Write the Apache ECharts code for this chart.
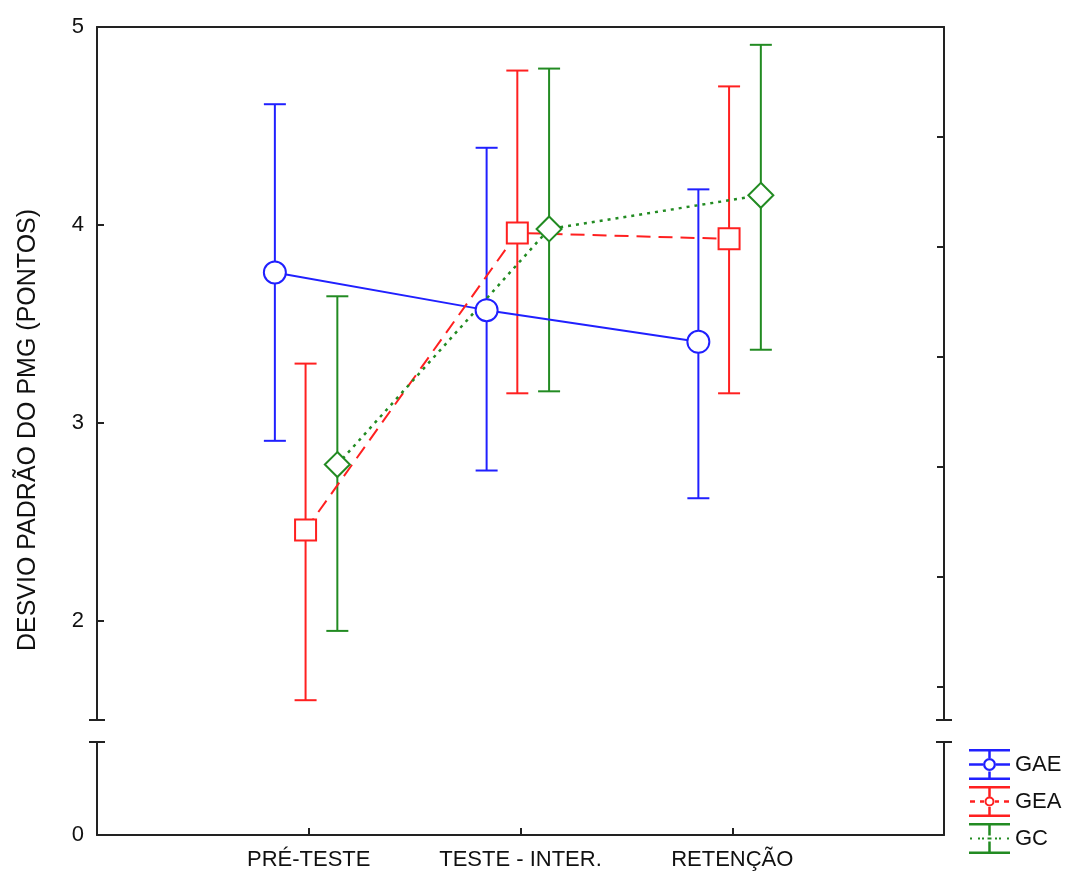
<!DOCTYPE html>
<html>
<head>
<meta charset="utf-8">
<script src="https://cdn.jsdelivr.net/npm/echarts@6/dist/echarts.min.js"></script>
<style>
html, body { margin: 0; padding: 0; background: #fff; }
#main { width: 1066px; height: 879px; }
</style>
</head>
<body>
<div id="main"></div>
<script>
// values
var categories = ['PRÉ-TESTE', 'TESTE - INTER.', 'RETENÇÃO'];
var groups = ['GAE', 'GEA', 'GC'];

var gaeMean = [3.76, 3.57, 3.41];
var gaeLow  = [2.91, 2.76, 2.62];
var gaeHigh = [4.61, 4.39, 4.18];

var geaMean = [2.46, 3.96, 3.93];
var geaLow  = [1.60, 3.15, 3.15];
var geaHigh = [3.30, 4.78, 4.70];

var gcMean  = [2.79, 3.98, 4.15];
var gcLow   = [1.95, 3.16, 3.37];
var gcHigh  = [3.64, 4.79, 4.91];

var yLabels = [2, 3, 4, 5];
var yTitle = 'DESVIO PADRÃO DO PMG (PONTOS)';

// look
var font = 'Liberation Sans, Arial, sans-serif';
var textColor = '#111';
var axisColor = '#222';
var colors = ['#2020ff', '#ff2020', '#228b22'];
var shift = [-0.16, -0.015, 0.135];   // spread of the groups inside a category
var symbols = ['circle', 'rect', 'diamond'];
var symbolSizes = [22, 21, 25];
var lineTypes = ['solid', [14, 8], [3, 5]];
var lineWidths = [2, 2, 2.5];

var means = [gaeMean, geaMean, gcMean];
var lows = [gaeLow, geaLow, gcLow];
var highs = [gaeHigh, geaHigh, gcHigh];

// legend glyphs (error bar + marker), 41 x 31 box
var ring = function (cx, cy, r1, r2) {
    return 'M' + (cx - r1) + ' ' + cy + ' A' + r1 + ' ' + r1 + ' 0 1 0 ' + (cx + r1) + ' ' + cy +
        ' A' + r1 + ' ' + r1 + ' 0 1 0 ' + (cx - r1) + ' ' + cy + ' Z ' +
        'M' + (cx - r2) + ' ' + cy + ' A' + r2 + ' ' + r2 + ' 0 1 1 ' + (cx + r2) + ' ' + cy +
        ' A' + r2 + ' ' + r2 + ' 0 1 1 ' + (cx - r2) + ' ' + cy + ' Z ';
};
var rect = function (x, y, w, h) {
    return 'M' + x + ' ' + y + ' H' + (x + w) + ' V' + (y + h) + ' H' + x + ' Z ';
};
var caps = rect(0, 0, 41, 2.5) + rect(0, 28.5, 41, 2.5);
var icons = [
    'path://' + caps + rect(19.25, 2.5, 2.5, 6.5) + rect(19.25, 22.5, 2.5, 6) +
        rect(0, 14.25, 14, 2.5) + rect(27, 14.25, 14, 2.5) + ring(20.5, 15.5, 6.5, 4.2),
    'path://' + caps + rect(19.25, 2.5, 2.5, 8) + rect(19.25, 21, 2.5, 7.5) +
        rect(1, 14.25, 5, 2.5) + rect(11, 14.25, 4, 2.5) + rect(26, 14.25, 4, 2.5) + rect(35, 14.25, 5, 2.5) +
        ring(20.5, 15.5, 5, 3),
    'path://' + caps + rect(19.25, 2.5, 2.5, 10) + rect(19.25, 18.5, 2.5, 10) +
        rect(1, 14.5, 2, 2) + rect(9, 14.5, 2, 2) + rect(13, 14.5, 2, 2) + rect(18.5, 14.5, 4, 2) +
        rect(26, 14.5, 2, 2) + rect(30, 14.5, 2, 2) + rect(38, 14.5, 2, 2)
];

function renderBar(params, api) {
    var x = api.value(0);
    var lo = api.coord([x, api.value(1)]);
    var hi = api.coord([x, api.value(2)]);
    var half = 11;
    var st = { stroke: api.visual('color'), lineWidth: 2 };
    return {
        type: 'group',
        children: [
            { type: 'line', shape: { x1: lo[0], y1: lo[1], x2: hi[0], y2: hi[1] }, style: st },
            { type: 'line', shape: { x1: hi[0] - half, y1: hi[1], x2: hi[0] + half, y2: hi[1] }, style: st },
            { type: 'line', shape: { x1: lo[0] - half, y1: lo[1], x2: lo[0] + half, y2: lo[1] }, style: st }
        ]
    };
}

var series = [];
groups.forEach(function (g, i) {
    var barData = [], pts = [];
    for (var k = 0; k < categories.length; k++) {
        var x = k + 1 + shift[i];
        barData.push([x, lows[i][k], highs[i][k]]);
        pts.push([x, means[i][k]]);
    }
    series.push({
        name: g + ' bars',
        type: 'custom',
        xAxisIndex: 0,
        yAxisIndex: 0,
        z: 2,
        itemStyle: { color: colors[i] },
        encode: { x: 0, y: [1, 2] },
        renderItem: renderBar,
        data: barData
    });
    series.push({
        name: g,
        type: 'line',
        xAxisIndex: 0,
        yAxisIndex: 0,
        z: 3,
        symbol: symbols[i],
        symbolSize: symbolSizes[i],
        showAllSymbol: true,
        lineStyle: { color: colors[i], width: lineWidths[i], type: lineTypes[i] },
        itemStyle: { color: '#fff', borderColor: colors[i], borderWidth: 2 },
        data: pts
    });
});

var rightTicks = [3, 4, 5, 6, 7, 8].map(function (k) { return k * 5 / 9; });

var plainLine = { show: true, lineStyle: { color: axisColor, width: 2 } };

var option = {
    animation: false,
    backgroundColor: '#fff',
    grid: [
        { left: 97, right: 122, top: 27, height: 693 },
        { left: 97, right: 122, top: 742, bottom: 44 }
    ],
    xAxis: [
        {
            gridIndex: 0, type: 'value', min: 0, max: 4, position: 'top',
            axisLine: plainLine, axisTick: { show: false }, axisLabel: { show: false },
            splitLine: { show: false }
        },
        {
            gridIndex: 1, type: 'value', min: 0, max: 4, position: 'bottom',
            axisLine: plainLine,
            axisTick: { show: true, inside: true, length: 7, customValues: [1, 2, 3],
                lineStyle: { color: axisColor, width: 2 } },
            axisLabel: {
                customValues: [1, 2, 3], margin: 14, fontSize: 22, fontFamily: font, color: textColor,
                formatter: function (v) { return categories[Math.round(v) - 1] || ''; }
            },
            splitLine: { show: false }
        }
    ],
    yAxis: [
        {
            gridIndex: 0, type: 'value', min: 1.5, max: 5, position: 'left',
            axisLine: { show: true, symbol: ['rect', 'none'], symbolSize: [16, 2],
                lineStyle: { color: axisColor, width: 2 } },
            axisTick: { show: true, inside: true, length: 7, customValues: [2, 3, 4],
                lineStyle: { color: axisColor, width: 2 } },
            axisLabel: { customValues: yLabels, margin: 13, fontSize: 22, fontFamily: font, color: textColor },
            splitLine: { show: false }
        },
        {
            gridIndex: 0, type: 'value', min: 1.5, max: 5, position: 'right',
            axisLine: { show: true, symbol: ['rect', 'none'], symbolSize: [16, 2],
                lineStyle: { color: axisColor, width: 2 } },
            axisTick: { show: true, inside: true, length: 7, customValues: rightTicks,
                lineStyle: { color: axisColor, width: 2 } },
            axisLabel: { show: false },
            splitLine: { show: false }
        },
        {
            gridIndex: 1, type: 'value', min: 0, max: 0.47, position: 'left',
            axisLine: { show: true, symbol: ['none', 'rect'], symbolSize: [16, 2],
                lineStyle: { color: axisColor, width: 2 } },
            axisTick: { show: false },
            axisLabel: { customValues: [0], margin: 13, fontSize: 22, fontFamily: font, color: textColor },
            splitLine: { show: false }
        },
        {
            gridIndex: 1, type: 'value', min: 0, max: 0.47, position: 'right',
            axisLine: { show: true, symbol: ['none', 'rect'], symbolSize: [16, 2],
                lineStyle: { color: axisColor, width: 2 } },
            axisTick: { show: false },
            axisLabel: { show: false },
            splitLine: { show: false }
        }
    ],
    legend: {
        orient: 'vertical',
        left: 969,
        top: 749,
        itemWidth: 41,
        itemHeight: 31,
        itemGap: 6,
        padding: 0,
        textStyle: { fontSize: 22, fontFamily: font, color: textColor },
        data: groups.map(function (g, i) {
            return { name: g, icon: icons[i], itemStyle: { color: colors[i], borderWidth: 0 } };
        })
    },
    graphic: [{
        type: 'text',
        x: 28,
        y: 430,
        rotation: Math.PI / 2,
        style: {
            text: yTitle,
            font: 'normal 25px ' + font,
            fill: textColor,
            align: 'center',
            verticalAlign: 'middle',
            textAlign: 'center',
            textVerticalAlign: 'middle'
        }
    }],
    series: series
};

var myChart = echarts.init(document.getElementById('main'));
myChart.setOption(option);
</script>
</body>
</html>
